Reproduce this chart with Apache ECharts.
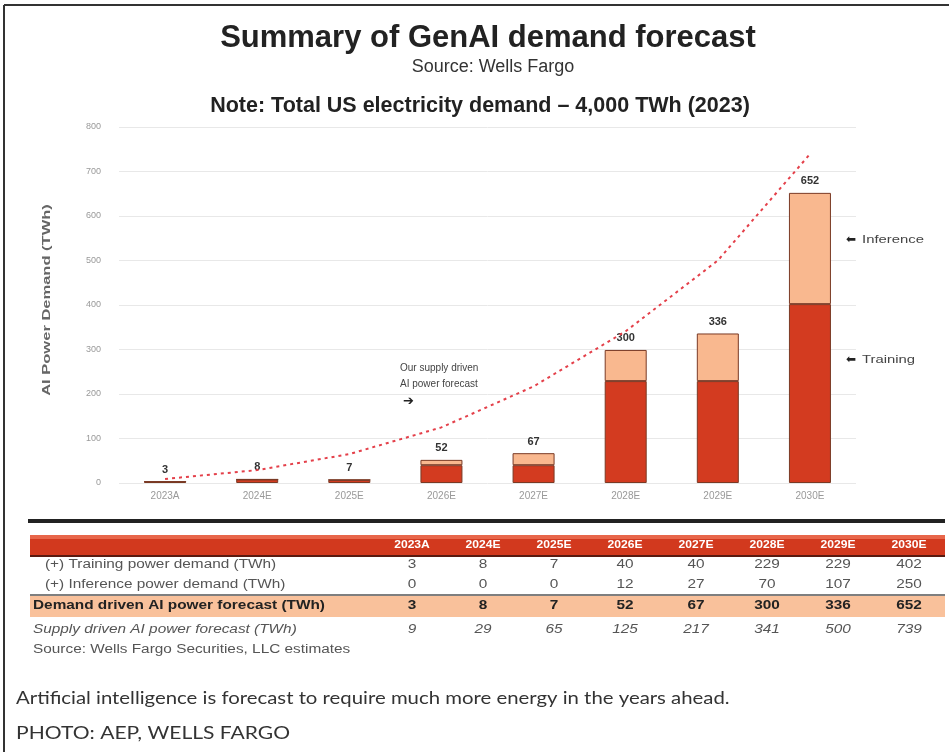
<!DOCTYPE html>
<html><head><meta charset="utf-8">
<script src="https://cdn.jsdelivr.net/npm/echarts@6/dist/echarts.min.js"></script>
<style>html,body{margin:0;padding:0;background:#fff}#c{width:949px;height:752px}</style>
</head><body><div id="c"></div>
<script>
const categories = ['2023A','2024E','2025E','2026E','2027E','2028E','2029E','2030E'];
const training = [3, 8, 7, 40, 40, 229, 229, 402];
const inference = [0, 0, 0, 12, 27, 70, 107, 250];
const demandTotal = [3, 8, 7, 52, 67, 300, 336, 652];
const supply = [9, 29, 65, 125, 217, 341, 500, 739];
const rowLabels = ['(+) Training power demand (TWh)', '(+) Inference power demand (TWh)', 'Demand driven AI power forecast (TWh)', 'Supply driven AI power forecast (TWh)'];

const chart = echarts.init(document.getElementById('c'));
const SANS = '"Liberation Sans", Arial, sans-serif';
const g = [];
function txt(x, y, text, opt) {
  opt = opt || {};
  g.push({type:'text', x:x, y:y, z:10, scaleX:opt.sx||1, rotation:opt.rot||0,
    style:{text:text, fill:opt.fill||'#333', textAlign:opt.align||'left', textVerticalAlign:'middle',
    font:(opt.style||'normal')+' '+(opt.weight||'normal')+' '+(opt.size||10)+'px '+(opt.family||SANS)}});
}
function rect(x, y, w, h, fill) { g.push({type:'rect', shape:{x:x,y:y,width:w,height:h}, style:{fill:fill}, z:1}); }
function line(x1, y1, x2, y2, c, w) { g.push({type:'line', shape:{x1:x1,y1:y1,x2:x2,y2:y2}, style:{stroke:c, lineWidth:w}, z:2}); }

// frame
line(4, 5, 949, 5, '#333', 2);
line(4, 5, 4, 752, '#333', 2);
// titles
txt(488, 38, 'Summary of GenAI demand forecast', {align:'center', weight:'bold', size:31, fill:'#222'});
txt(493, 67, 'Source: Wells Fargo', {align:'center', size:18, fill:'#333'});
txt(480, 106, 'Note: Total US electricity demand \u2013 4,000 TWh (2023)', {align:'center', weight:'bold', size:21.5, fill:'#222'});
// y axis name
txt(47, 300, 'AI Power Demand (TWh)', {align:'center', weight:'bold', size:11, fill:'#666', sx:1.5, rot:Math.PI/2});
// annotations
txt(400, 368, 'Our supply driven', {size:10, fill:'#444'});
txt(400, 384, 'AI power forecast', {size:10, fill:'#444'});
txt(403, 402, '\u2794', {size:13, fill:'#222', family:'"DejaVu Sans"'});
txt(846, 240, '\u2B05', {size:12, fill:'#222', family:'"DejaVu Sans"'});
txt(862, 240, 'Inference', {size:11, fill:'#444', sx:1.35});
txt(846, 360, '\u2B05', {size:12, fill:'#222', family:'"DejaVu Sans"'});
txt(862, 360, 'Training', {size:11, fill:'#444', sx:1.35});

// table
const colX0 = 412, colStep = 71, TS = 1.28;
rect(28, 519, 917, 4, '#222');
rect(30, 535, 915, 21, '#d2391e');
rect(30, 535, 915, 4, '#e8664a');
line(30, 556, 945, 556, '#5a1a10', 2);
categories.forEach((c, i) => txt(colX0 + i*colStep, 545, c, {align:'center', weight:'bold', size:11, fill:'#fff', sx:1.1}));
line(30, 595, 945, 595, '#555', 1.5);
rect(30, 596, 915, 21, '#f9c19b');
const rowY = [565, 585, 606, 630];
const rows = [training, inference, demandTotal, supply];
rowLabels.forEach((lab, r) => {
  const o = r === 2 ? {weight:'bold', size:12, fill:'#222', sx:TS} : r === 3 ? {style:'italic', size:12, fill:'#555', sx:TS} : {size:12, fill:'#555', sx:TS};
  txt(r < 2 ? 45 : 33, rowY[r], lab, o);
  rows[r].forEach((v, i) => txt(colX0 + i*colStep, rowY[r], String(v), Object.assign({}, o, {align:'center'})));
});
txt(33, 650, 'Source: Wells Fargo Securities, LLC estimates', {size:12, fill:'#555', sx:TS});
// caption
txt(16, 698, 'Artificial intelligence is forecast to require much more energy in the years ahead.', {size:18, fill:'#333', family:'Lato, sans-serif', sx:1.13});
txt(16, 733, 'PHOTO: AEP, WELLS FARGO', {size:18, fill:'#333', family:'Lato, sans-serif', sx:1.17});

chart.setOption({
  animation: false,
  grid: {left:119, right:93, top:127, bottom:269},
  xAxis: {type:'category', data:categories, axisLine:{show:false}, axisTick:{show:false},
    axisLabel:{color:'#999', fontSize:10, margin:8}},
  yAxis: {type:'value', min:0, max:800, interval:100,
    axisLabel:{color:'#999', fontSize:9, margin:18}, splitLine:{lineStyle:{color:'#e8e8e8'}}},
  series: [
    {type:'bar', stack:'d', data:training, barWidth:42, itemStyle:{color:'#d33b20', borderColor:'#7a3a25', borderWidth:1}},
    {type:'bar', stack:'d', data:inference, barWidth:42, itemStyle:{color:'#f9b88f', borderColor:'#7a3a25', borderWidth:1},
      label:{show:true, position:'top', formatter:p => demandTotal[p.dataIndex], color:'#333', fontWeight:'bold', fontSize:11, distance:6}},
    {type:'line', data:supply, symbol:'none', z:5, lineStyle:{color:'#e4404a', width:2, type:[3,4]}}
  ],
  graphic: g
});
</script></body></html>
